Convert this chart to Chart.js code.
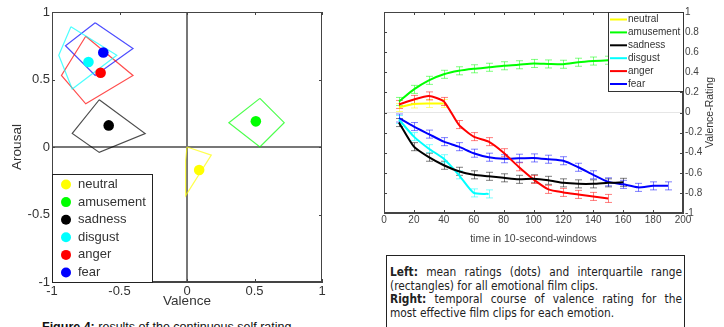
<!DOCTYPE html>
<html>
<head>
<meta charset="utf-8">
<script src="https://cdn.jsdelivr.net/npm/chart.js@4.4.1/dist/chart.umd.min.js"></script>
<style>
  body { margin: 0; width: 724px; height: 327px; overflow: hidden; background: #fff; position: relative; font-family: Arial, "Liberation Sans", sans-serif; }
  #ratingChart { position: absolute; left: 0; top: 0; }
  #timeChart { position: absolute; left: 360px; top: 0; }
  .note { position: absolute; left: 386px; top: 255px; width: 299px; height: 90px; box-sizing: border-box; border: 1px solid #222;
          padding: 10px 2px 0 3px; font-family: "Liberation Sans Narrow", "Arial Narrow", "DejaVu Sans Condensed", sans-serif;
          font-size: 11.8px; line-height: 13.6px; color: #222; }
  .note div { white-space: nowrap; }
  .note .just { text-align: justify; text-align-last: justify; white-space: normal; }
  .caption { position: absolute; left: 42px; top: 321px; font-family: "Liberation Sans Narrow", "Arial Narrow", sans-serif;
             font-size: 12.5px; line-height: 12.5px; color: #111; white-space: nowrap; }
</style>
</head>
<body>
<canvas id="ratingChart" width="340" height="310"></canvas>
<canvas id="timeChart" width="364" height="245"></canvas>
<div class="note">
  <div class="just"><b>Left:</b> mean ratings (dots) and interquartile range</div>
  <div>(rectangles) for all emotional film clips.</div>
  <div class="just"><b>Right:</b> temporal course of valence rating for the</div>
  <div>most effective film clips for each emotion.</div>
</div>
<div class="caption"><b>Figure 4:</b> results of the continuous self rating</div>
<script>
// emotions and their Matlab colours, shared by both plots
const emotions = ["neutral", "amusement", "sadness", "disgust", "anger", "fear"];
const emotionColors = ["#ffff00", "#00ff00", "#000000", "#00ffff", "#ff0000", "#0000ff"];

// left plot: mean rating per emotion
const meanValence = [0.09, 0.51, -0.58, -0.73, -0.64, -0.62];
const meanArousal = [-0.17, 0.19, 0.16, 0.63, 0.55, 0.70];
// left plot: corners of each interquartile box, going round the box
const boxValence = [
  [0.0, 0.18, -0.01, -0.01],
  [0.54, 0.72, 0.54, 0.31],
  [-0.65, -0.31, -0.65, -0.85],
  [-0.86, -0.52, -0.85, -0.95],
  [-0.75, -0.40, -0.75, -0.93],
  [-0.68, -0.40, -0.68, -0.90]
];
const boxArousal = [
  [0.0, -0.06, -0.36, -0.10],
  [0.36, 0.18, 0.0, 0.18],
  [0.35, 0.10, -0.04, 0.10],
  [0.89, 0.68, 0.43, 0.68],
  [0.82, 0.53, 0.32, 0.53],
  [0.92, 0.73, 0.53, 0.75]
];
const valenceTicks = [-1, -0.5, 0, 0.5, 1];
const arousalTicks = [-1, -0.5, 0, 0.5, 1];

// right plot: valence rating per 10-second window
const timeWindows = [10, 20, 30, 40, 50, 60, 70, 80, 90, 100, 110, 120, 130, 140, 150, 160, 170, 180, 190];
const neutralRating = [0.05, 0.085, 0.09, 0.09];
const amusementRating = [0.11, 0.23, 0.32, 0.38, 0.415, 0.435, 0.45, 0.465, 0.475, 0.488, 0.483, 0.48, 0.50, 0.512, 0.52];
const sadnessRating = [-0.10, -0.34, -0.445, -0.525, -0.585, -0.62, -0.635, -0.65, -0.665, -0.66, -0.675, -0.70, -0.71, -0.71, -0.70, -0.695];
const disgustRating = [-0.07, -0.24, -0.36, -0.46, -0.62, -0.80, -0.81];
const angerRating = [0.08, 0.13, 0.165, 0.11, -0.12, -0.24, -0.29, -0.40, -0.54, -0.665, -0.765, -0.795, -0.815, -0.835, -0.855];
const fearRating = [-0.055, -0.14, -0.215, -0.29, -0.34, -0.405, -0.445, -0.46, -0.455, -0.452, -0.465, -0.48, -0.545, -0.62, -0.69, -0.715, -0.745, -0.73, -0.73];
const ratingSeries = [neutralRating, amusementRating, sadnessRating, disgustRating, angerRating, fearRating];
const ratingError = 0.04; // half length of the error bars
const timeTicks = [0, 20, 40, 60, 80, 100, 120, 140, 160, 180, 200];
const ratingTicks = [1, 0.8, 0.6, 0.4, 0.2, 0, -0.2, -0.4, -0.6, -0.8, -1];
const ratingTitle = "Valence-Rating";

const fontFamily = "Arial, 'Liberation Sans', sans-serif";
Chart.defaults.font.family = fontFamily;

function withAlpha(hex, a) {
  const n = parseInt(hex.slice(1), 16);
  return "rgba(" + (n >> 16) + "," + ((n >> 8) & 255) + "," + (n & 255) + "," + a + ")";
}

// Matlab style box with small inward ticks on all four sides
const frameBox = {
  id: "frameBox",
  afterDraw(chart) {
    const { ctx, chartArea: a, scales } = chart;
    const xs = scales.x, ys = scales.y;
    ctx.save();
    ctx.strokeStyle = "#444";
    ctx.lineWidth = 1;
    ctx.strokeRect(a.left + 0.5, a.top + 0.5, a.right - a.left - 1, a.bottom - a.top - 1);
    ctx.beginPath();
    xs.ticks.forEach(t => {
      const px = Math.round(xs.getPixelForValue(t.value)) + 0.5;
      ctx.moveTo(px, a.top); ctx.lineTo(px, a.top + 3);
      ctx.moveTo(px, a.bottom); ctx.lineTo(px, a.bottom - 3);
    });
    ys.ticks.forEach(t => {
      const py = Math.round(ys.getPixelForValue(t.value)) + 0.5;
      ctx.moveTo(a.left, py); ctx.lineTo(a.left + 3, py);
      ctx.moveTo(a.right, py); ctx.lineTo(a.right - 3, py);
    });
    ctx.stroke();
    ctx.restore();
  }
};

// legend in the lower left corner of the rating plot
const dotLegend = {
  id: "dotLegend",
  afterDraw(chart) {
    const { ctx, chartArea: a } = chart;
    const left = a.left, top = a.bottom - 108;
    ctx.save();
    ctx.fillStyle = "#fff";
    ctx.fillRect(left, top, 100, 108);
    ctx.strokeStyle = "#222";
    ctx.lineWidth = 1;
    ctx.strokeRect(left + 0.5, top + 0.5, 100, 108);
    ctx.font = "13px " + fontFamily;
    ctx.textBaseline = "middle";
    emotions.forEach((name, i) => {
      const y = top + 10.5 + i * 17.6;
      ctx.fillStyle = emotionColors[i];
      ctx.beginPath();
      ctx.arc(left + 14, y, 5, 0, Math.PI * 2);
      ctx.fill();
      ctx.fillStyle = "#333";
      ctx.fillText(name, left + 26, y);
    });
    ctx.restore();
  }
};

// left chart: boxes drawn as closed outlines, means drawn as dots
const ratingDatasets = [];
emotions.forEach((name, i) => {
  const corners = boxValence[i].map((v, k) => ({ x: v, y: boxArousal[i][k] }));
  corners.push(corners[0]);
  ratingDatasets.push({
    label: name + " IQR",
    data: corners,
    showLine: true,
    borderColor: withAlpha(emotionColors[i], 0.7),
    borderWidth: 1.2,
    pointRadius: 0,
    order: 1
  });
  ratingDatasets.push({
    label: name,
    data: [{ x: meanValence[i], y: meanArousal[i] }],
    backgroundColor: emotionColors[i],
    borderWidth: 0,
    pointRadius: 5.3,
    order: 0
  });
});

new Chart(document.getElementById("ratingChart"), {
  type: "scatter",
  data: { datasets: ratingDatasets },
  options: {
    responsive: false,
    animation: false,
    layout: { padding: { top: 12, right: 18 } },
    plugins: { legend: { display: false }, tooltip: { enabled: false } },
    scales: {
      x: {
        min: -1, max: 1,
        afterBuildTicks: s => { s.ticks = valenceTicks.map(v => ({ value: v })); },
        afterFit: s => { s.height = 28; },
        ticks: { callback: v => String(v), color: "#333", font: { size: 13 }, padding: 2, maxRotation: 0 },
        grid: { drawTicks: false, color: c => c.tick && c.tick.value === 0 ? "#777" : "transparent", lineWidth: 2 },
        border: { color: "#444" },
        title: { display: true, text: "Valence", color: "#333", font: { size: 13.5 }, padding: { top: 0, bottom: 1 } }
      },
      y: {
        min: -1, max: 1,
        afterBuildTicks: s => { s.ticks = arousalTicks.map(v => ({ value: v })); },
        afterFit: s => { s.width = 52; },
        ticks: { callback: v => String(v), color: "#333", font: { size: 13 }, padding: 2 },
        grid: { drawTicks: false, color: c => c.tick && c.tick.value === 0 ? "#777" : "transparent", lineWidth: 2 },
        border: { color: "#444" },
        title: { display: true, text: "Arousal", color: "#333", font: { size: 13.5 }, padding: { top: 9, bottom: 0 } }
      }
    }
  },
  plugins: [frameBox, dotLegend]
});

// error bars under each rating line
const errorBars = {
  id: "errorBars",
  beforeDatasetsDraw(chart) {
    const { ctx, scales } = chart;
    ctx.save();
    ctx.lineWidth = 1;
    chart.data.datasets.forEach(ds => {
      ctx.strokeStyle = withAlpha(ds.borderColor, 0.5);
      ctx.beginPath();
      ds.data.forEach(p => {
        const px = Math.round(scales.x.getPixelForValue(p.x)) + 0.5;
        const hi = scales.y.getPixelForValue(p.y + ratingError);
        const lo = scales.y.getPixelForValue(p.y - ratingError);
        ctx.moveTo(px, hi); ctx.lineTo(px, lo);
        ctx.moveTo(px - 3.5, hi); ctx.lineTo(px + 3.5, hi);
        ctx.moveTo(px - 3.5, lo); ctx.lineTo(px + 3.5, lo);
      });
      ctx.stroke();
    });
    ctx.restore();
  }
};

// legend box in the top right corner, plus the rotated y title on the right
const lineLegend = {
  id: "lineLegend",
  afterDraw(chart) {
    const { ctx, chartArea: a } = chart;
    const left = a.right - 75, top = a.top;
    ctx.save();
    ctx.fillStyle = "#fff";
    ctx.fillRect(left, top, 75, 79);
    ctx.strokeStyle = "#333";
    ctx.lineWidth = 1;
    ctx.strokeRect(left + 0.5, top + 0.5, 75, 79);
    ctx.font = "10px " + fontFamily;
    ctx.textBaseline = "middle";
    emotions.forEach((name, i) => {
      const y = top + 7.5 + i * 12.9;
      ctx.strokeStyle = emotionColors[i];
      ctx.lineWidth = 2;
      ctx.beginPath();
      ctx.moveTo(left + 2, y); ctx.lineTo(left + 19, y);
      ctx.stroke();
      ctx.fillStyle = "#333";
      ctx.fillText(name, left + 20, y);
    });
    ctx.translate(350, (a.top + a.bottom) / 2);
    ctx.rotate(-Math.PI / 2);
    ctx.textAlign = "center";
    ctx.font = "10.5px " + fontFamily;
    ctx.fillText(ratingTitle, 0, 0);
    ctx.restore();
  }
};

new Chart(document.getElementById("timeChart"), {
  type: "line",
  data: {
    datasets: emotions.map((name, i) => ({
      label: name,
      data: ratingSeries[i].map((v, k) => ({ x: timeWindows[k], y: v })),
      borderColor: emotionColors[i],
      borderWidth: 2,
      pointRadius: 0,
      tension: 0.2,
      fill: false
    }))
  },
  options: {
    responsive: false,
    animation: false,
    layout: { padding: { left: 24, top: 12 } },
    plugins: { legend: { display: false }, tooltip: { enabled: false } },
    scales: {
      x: {
        type: "linear", min: 0, max: 200,
        afterBuildTicks: s => { s.ticks = timeTicks.map(v => ({ value: v })); },
        afterFit: s => { s.height = 32; },
        ticks: { color: "#444", font: { size: 10 }, padding: 1, maxRotation: 0 },
        grid: { drawTicks: false, color: "transparent" },
        border: { color: "#444" },
        title: { display: true, text: "time in 10-second-windows", color: "#444", font: { size: 10.5 }, padding: 0 }
      },
      y: {
        position: "right", min: -1, max: 1,
        afterBuildTicks: s => { s.ticks = ratingTicks.map(v => ({ value: v })); },
        afterFit: s => { s.width = 41; },
        ticks: { callback: v => String(v), color: "#444", font: { size: 10 }, padding: 2 },
        grid: { drawTicks: false, color: c => c.tick && c.tick.value === 0 ? "#e6e6e6" : "transparent" },
        border: { color: "#444" }
      }
    }
  },
  plugins: [errorBars, frameBox, lineLegend]
});
</script>
</body>
</html>
